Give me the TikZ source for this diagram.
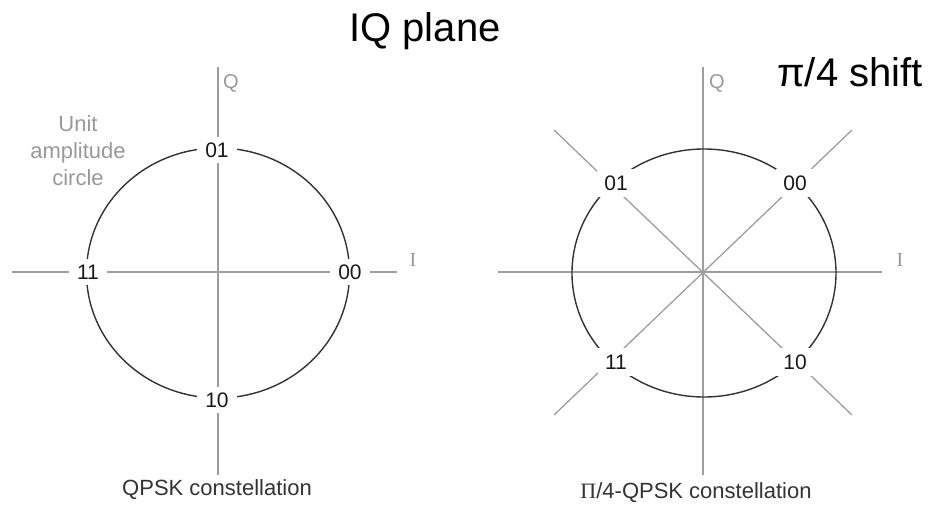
\documentclass[tikz,border=0pt]{standalone}
\usepackage{fontspec}
\setmainfont{Liberation Sans}
\newfontfamily\serifgr{Liberation Serif}
\begin{document}
\begin{tikzpicture}[x=1pt,y=-1pt,
  axisline/.style={draw=black!38,line width=1.3pt},
  circline/.style={draw=black!80,line width=1.4pt},
  ptlab/.style={fill=white,inner xsep=8pt,inner ysep=6pt,font=\fontsize{21}{23}\selectfont,text=black!90},
  axlab/.style={font=\fontsize{20}{22}\selectfont,text=black!40},
  captext/.style={font=\fontsize{22}{24}\selectfont,text=black!80},
  ttltext/.style={font=\fontsize{40}{44}\selectfont,text=black}]
\useasboundingbox (0,0) rectangle (930,505);
% ---------- left: QPSK ----------
\coordinate (Lc) at (218,273);
\coordinate (Lt) at (218,67);
\coordinate (Lb) at (218,475);
\coordinate (Ll) at (12,272);
\coordinate (Lr) at (397,272);
\draw[axisline] (Lt) -- (Lb);
\draw[axisline] (Ll) -- (Lr);
\draw[circline] (Lc) ellipse [x radius=131.5pt, y radius=125pt];
\node[ptlab] (L01) at (217,150) {01};
\node[ptlab] (L11) at (88,272) {11};
\node[ptlab] (L00) at (350,272) {00};
\node[ptlab] (L10) at (217,400) {10};
\node[axlab] (LQ) at (231,83) {Q};
\node[axlab,font=\serifgr\fontsize{20}{22}\selectfont] (LI) at (413,260) {I};
\node[axlab,align=center,font=\fontsize{22}{27}\selectfont] (Lunit) at (78,151) {Unit\\amplitude\\circle};
\node[captext] (Lcap) at (217,490) {QPSK constellation};
% ---------- right: pi/4-QPSK ----------
\coordinate (Rc) at (703,272);
\coordinate (Rt) at (703,67);
\coordinate (Rb) at (703,475);
\coordinate (Rl) at (498,272);
\coordinate (Rr) at (882,272);
\coordinate (Rnw) at (554,130);
\coordinate (Rne) at (852,130);
\coordinate (Rsw) at (554,415);
\coordinate (Rse) at (852,415);
\draw[axisline] (Rt) -- (Rb);
\draw[axisline] (Rl) -- (Rr);
\draw[axisline] (Rnw) -- (Rse);
\draw[axisline] (Rne) -- (Rsw);
\draw[circline] (704,273) ellipse [x radius=132pt, y radius=124pt];
\node[ptlab,inner xsep=7pt,inner ysep=7pt] (R01) at (616,183) {01};
\node[ptlab,inner xsep=7pt,inner ysep=7pt] (R00) at (795,183) {00};
\node[ptlab,inner xsep=7pt,inner ysep=7pt] (R11) at (616,362) {11};
\node[ptlab,inner xsep=7pt,inner ysep=7pt] (R10) at (795,362) {10};
\node[axlab] (RQ) at (717,83) {Q};
\node[axlab,font=\serifgr\fontsize{20}{22}\selectfont] (RI) at (900,260) {I};
\node[captext] (Rcap) at (696,493) {{\serifgr Π}/4-QPSK constellation};
% ---------- titles ----------
\node[ttltext,anchor=base] (T1) at (425,42) {IQ plane};
\node[ttltext,anchor=base,font=\fontsize{40}{44}\selectfont] (T2) at (850,87) {π/4 shift};
\end{tikzpicture}
\end{document}
